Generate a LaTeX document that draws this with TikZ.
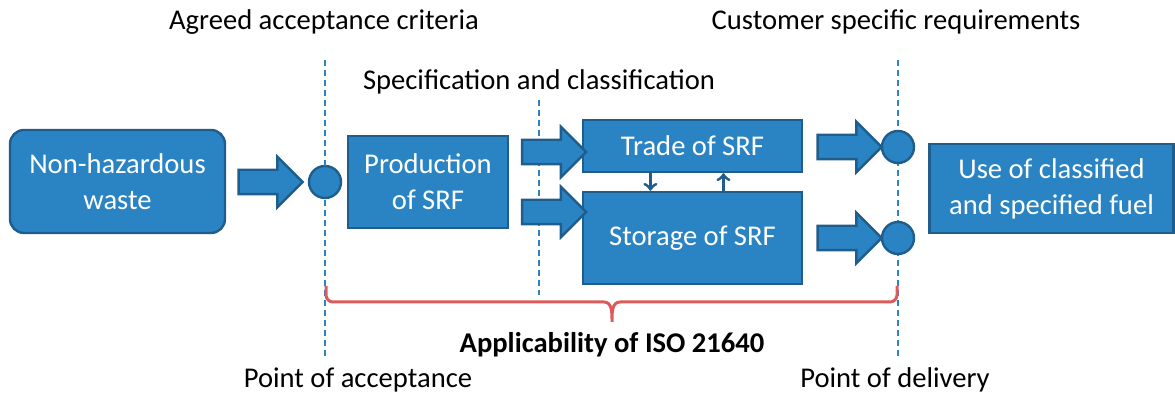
\documentclass[tikz,border=0pt]{standalone}
\usepackage{fontspec}
\setmainfont{Carlito}
\usetikzlibrary{arrows}
\usetikzlibrary{shapes.arrows}
\usetikzlibrary{calc}
\definecolor{boxblue}{HTML}{2A84C4}
\definecolor{edgeblue}{HTML}{1F5E8C}
\definecolor{bracered}{HTML}{DE5B5B}

\begin{document}
\begin{tikzpicture}[x=0.5pt,y=-0.5pt,
    font=\fontsize{14.3}{18}\selectfont,
    box/.style={draw=edgeblue, fill=boxblue, line width=1.2pt, text=white, align=center, inner sep=0pt},
    dot/.style={circle, draw=edgeblue, fill=boxblue, line width=1.2pt, minimum size=16pt, inner sep=0pt},
    fat/.style={single arrow, draw=edgeblue, fill=boxblue, line width=1.2pt, minimum height=32pt, minimum width=24pt, text height=5.5pt, text depth=5.5pt, text width=0pt, single arrow head extend=6.5pt, inner sep=0pt},
    cut/.style={boxblue, line width=0.8pt, dash pattern=on 3pt off 2pt},
    small/.style={-to, edgeblue, line width=1.5pt}]
    \useasboundingbox (0,0) rectangle (1175,394);

    % boundaries
    \coordinate (acctop) at (325,60);
    \coordinate (accbot) at (325,357);
    \coordinate (spectop) at (539,100);
    \coordinate (specbot) at (539,295);
    \coordinate (deltop) at (898,60);
    \coordinate (delbot) at (898,357);
    \draw[cut] (spectop) -- (specbot);
    \draw[cut] (deltop) -- (delbot);

    % blocks
    \node[box, rounded corners=7pt, minimum width=107.5pt, minimum height=51.5pt] (waste) at (117.5,181.5) {Non-hazardous\\waste};
    \node[dot] (accept) at (325,182) {};
    \draw[cut] (acctop) -- (accbot);
    \node[box, minimum width=80pt, minimum height=46pt] (prod) at (428,182) {Production\\of SRF};
    \node[box, minimum width=109.5pt, minimum height=26pt] (trade) at (692.5,146) {Trade of SRF};
    \node[box, minimum width=109.5pt, minimum height=46pt] (storage) at (692.5,238) {Storage of SRF};
    \node[dot] (deliv1) at (898,147) {};
    \node[dot] (deliv2) at (898,238) {};
    \node[box, minimum width=122pt, minimum height=44.5pt] (use) at (1051.5,188.5) {Use of classified\\and specified fuel};

    % block arrows
    \node[fat] (a1) at (264.5,182) {};
    \node[fat] (a2) at (548,152) {};
    \node[fat] (a3) at (548,212) {};
    \node[fat] (a4) at (843.5,147) {};
    \node[fat] (a5) at (843.5,238) {};

    \draw[small] ($(trade.south west)!0.31!(trade.south east)$) -- ($(storage.north west)!0.31!(storage.north east)$);
    \draw[small] ($(storage.north west)!0.64!(storage.north east)$) -- ($(trade.south west)!0.64!(trade.south east)$);

    % brace
    \draw[bracered, line width=1.5pt] (326,286) -- (326,295) to[out=-90,in=180] (333,302) -- (604,302) to[out=0,in=90] (612,322) to[out=90,in=180] (620,302) -- (890,302) to[out=0,in=-90] (897,295) -- (897,286);

    % labels
    \node (agreed) at (324,22) {Agreed acceptance criteria};
    \node (custom) at (896,22) {Customer specific requirements};
    \node (spec) at (539,82) {Specification and classification};
    \node[font=\fontsize{14.3}{18}\selectfont\bfseries] (iso) at (612,345) {Applicability of ISO 21640};
    \node (pacc) at (358,380) {Point of acceptance};
    \node (pdel) at (895,380) {Point of delivery};
\end{tikzpicture}
\end{document}
